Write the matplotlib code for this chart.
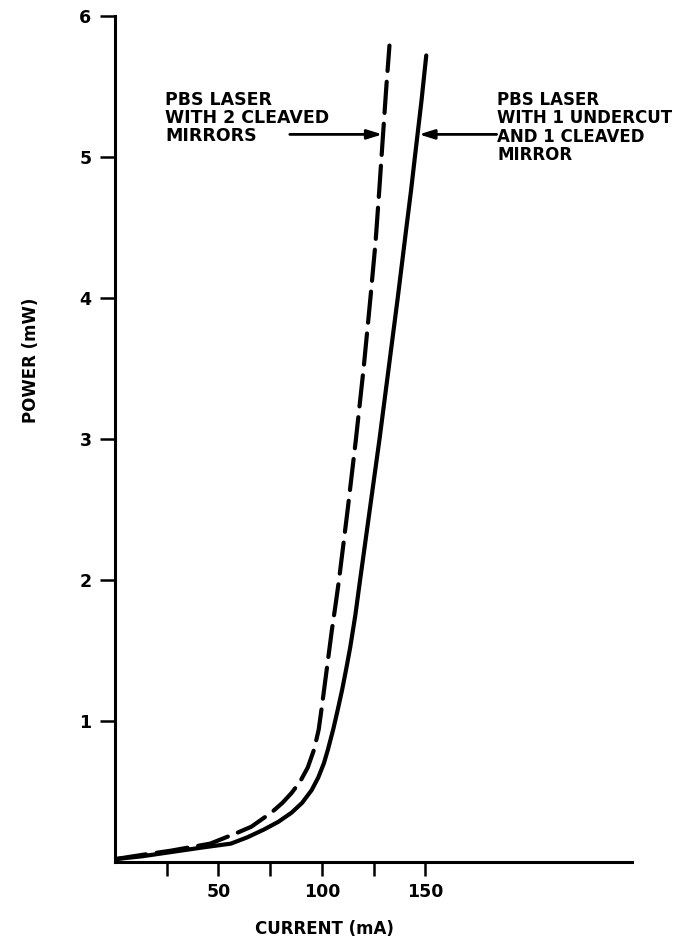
import matplotlib
matplotlib.use("Agg")
import matplotlib.pyplot as plt

# Light output vs. drive current for two PBS lasers
current_undercut = [0, 13, 27, 41, 56, 64, 72, 79, 85.4, 90.5, 95.1, 98.3, 101.0,
                    103.0, 105.5, 107.7, 109.8, 111.8, 113.7, 116.2, 118.5, 123.2,
                    127.9, 132.3, 136.7, 140.9, 143.2, 145.0, 148.2, 150.5]
power_undercut = [0.02, 0.04, 0.07, 0.10, 0.13, 0.175, 0.23, 0.285, 0.35, 0.42,
                  0.51, 0.60, 0.70, 0.80, 0.94, 1.08, 1.22, 1.37, 1.52, 1.75, 2.00,
                  2.50, 3.00, 3.50, 4.00, 4.50, 4.77, 5.00, 5.40, 5.72]

current_cleaved = [0, 13, 27, 46, 58, 65.9, 75.6, 81, 85.4, 89.5, 93.2, 96.3, 98.5,
                   100.0, 101.7, 103.3, 104.9, 106.6, 108.3, 112.5, 116.5, 120.2,
                   123.5, 126.0, 127.8, 129.6, 131.2, 132.7]
power_cleaved = [0.02, 0.05, 0.08, 0.13, 0.20, 0.25, 0.35, 0.42, 0.49, 0.57, 0.67,
                 0.80, 0.94, 1.10, 1.29, 1.47, 1.65, 1.82, 2.00, 2.50, 3.00, 3.50,
                 4.00, 4.40, 4.77, 5.16, 5.50, 5.79]

x_ticks = [25, 50, 75, 100, 125, 150]
x_tick_labels = ["", "50", "", "100", "", "150"]
y_ticks = [1, 2, 3, 4, 5, 6]
y_tick_labels = ["1", "2", "3", "4", "5", "6"]

label_cleaved = "PBS LASER\nWITH 2 CLEAVED\nMIRRORS"
label_undercut = "PBS LASER\nWITH 1 UNDERCUT\nAND 1 CLEAVED\nMIRROR"

FONT = "DejaVu Sans"

fig = plt.figure(figsize=(6.98, 9.44), dpi=100)
ax = fig.add_axes([0.1648, 0.0869, 0.7407, 0.8962])

ax.plot(current_cleaved, power_cleaved, color="black", lw=3.0,
        dashes=(7.5, 2.6), solid_capstyle="round", dash_capstyle="round",
        solid_joinstyle="round", dash_joinstyle="round")
ax.plot(current_undercut, power_undercut, color="black", lw=3.0,
        solid_capstyle="round", solid_joinstyle="round")

ax.set_xlim(0, 250)
ax.set_ylim(0, 6)

for side in ("top", "right"):
    ax.spines[side].set_visible(False)
for side in ("left", "bottom"):
    ax.spines[side].set_linewidth(2.2)
    ax.spines[side].set_color("black")

ax.set_xticks(x_ticks)
ax.set_xticklabels(x_tick_labels)
ax.set_yticks(y_ticks)
ax.set_yticklabels(y_tick_labels)
ax.tick_params(axis="x", direction="out", length=10, width=1.8, pad=5,
               labelsize=12.5)
ax.tick_params(axis="y", direction="out", length=11, width=1.8, pad=6,
               labelsize=12.5)
for lab in ax.get_xticklabels() + ax.get_yticklabels():
    lab.set_fontfamily(FONT)
    lab.set_fontweight("bold")

ax.set_xlabel("CURRENT (mA)", fontsize=12, fontweight="bold", family=FONT)
ax.xaxis.set_label_coords(0.405, -0.069)
ax.set_ylabel("POWER (mW)", fontsize=12, fontweight="bold", family=FONT)
ax.yaxis.set_label_coords(-0.145, 0.593)

arrow_style = dict(arrowstyle="-|>,head_length=0.9,head_width=0.28",
                   color="black", lw=2.0, shrinkA=0, shrinkB=0)
ax.annotate("", xy=(129.3, 5.16), xytext=(84.5, 5.16), arrowprops=arrow_style)
ax.annotate("", xy=(147.0, 5.16), xytext=(184.5, 5.16), arrowprops=arrow_style)

ax.text(24.4, 5.47, label_cleaved, ha="left", va="top", fontsize=12.5,
        fontweight="bold", family=FONT, linespacing=1.0)
ax.text(184.8, 5.47, label_undercut, ha="left", va="top", fontsize=12,
        fontweight="bold", family=FONT, linespacing=1.03)

fig.savefig("out.png", dpi=100)
